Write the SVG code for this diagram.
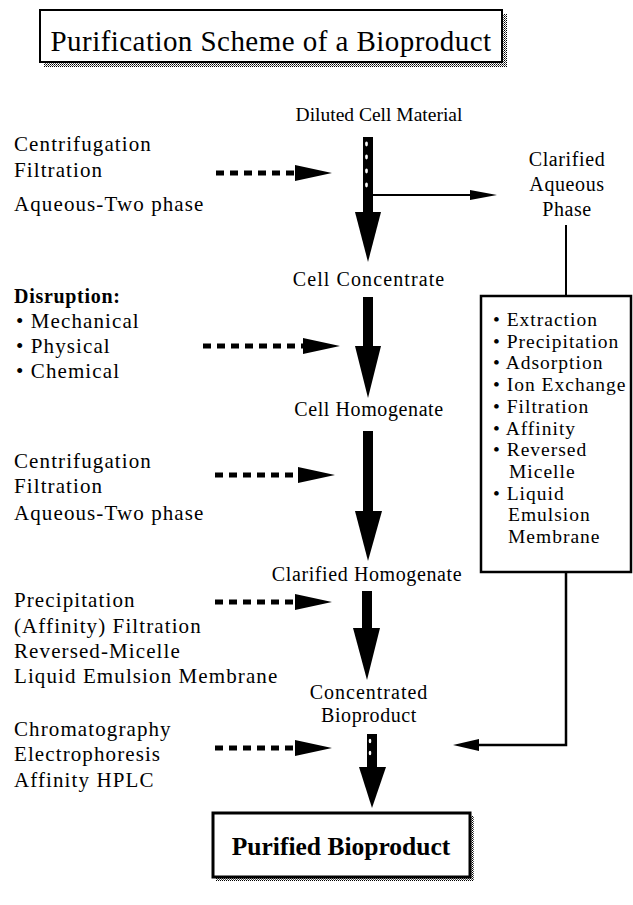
<svg xmlns="http://www.w3.org/2000/svg" width="633" height="905" viewBox="0 0 633 905">
<style>
text{font-family:"Liberation Serif","Times New Roman",serif;fill:#000}
.t{font-size:29px;letter-spacing:0.45px;text-anchor:middle}
.c{font-size:20px;letter-spacing:0.6px;text-anchor:middle}
.l{font-size:21px;letter-spacing:1.1px}
.lb{font-size:20px;letter-spacing:0.7px;font-weight:bold}
.b{font-size:19.5px;letter-spacing:1px}
.p{font-size:25.5px;font-weight:bold;text-anchor:middle}
.box{fill:#fff;stroke:#000}
.ln{stroke:#000;fill:none}
.dash{stroke:#000;stroke-width:5;stroke-dasharray:8 6;fill:none}
.blk{fill:#000}
.wd{fill:#fff}
</style>
<defs>
<pattern id="sh" width="2" height="2" patternUnits="userSpaceOnUse">
<rect width="2" height="2" fill="#fff"/>
<rect width="1" height="1" fill="#000"/>
<rect x="1" y="1" width="1" height="1" fill="#555"/>
</pattern>
</defs>
<rect width="633" height="905" fill="#fff"/>

<g id="title">
<rect x="44" y="14" width="463" height="53" fill="url(#sh)"/>
<rect class="box" x="40" y="10" width="462" height="52" stroke-width="2"/>
<text class="t" x="271" y="51">Purification Scheme of a Bioproduct</text>
</g>

<g id="connectors">
<!-- main arrow 1 (striped shaft) -->
<rect class="blk" x="363" y="137" width="10" height="76"/>
<ellipse class="wd" cx="366.5" cy="144" rx="1.4" ry="2.4"/>
<ellipse class="wd" cx="366.5" cy="157" rx="1.4" ry="2.4"/>
<ellipse class="wd" cx="366.5" cy="171" rx="1.4" ry="2.4"/>
<ellipse class="wd" cx="366.5" cy="185" rx="1.4" ry="2.4"/>
<polygon class="blk" points="355,212 381,212 368,262"/>
<!-- branch to clarified aqueous phase -->
<line class="ln" x1="373" y1="195" x2="475" y2="195" stroke-width="2"/>
<polygon class="blk" points="470,190 497,195 470,200"/>
<line class="ln" x1="566" y1="225" x2="566" y2="296" stroke-width="2"/>
<!-- main arrow 2 -->
<rect class="blk" x="363" y="297" width="10" height="50"/>
<polygon class="blk" points="355,346 381,346 368,398"/>
<!-- main arrow 3 -->
<rect class="blk" x="363" y="431" width="10" height="81"/>
<polygon class="blk" points="355,511 382,511 368,561"/>
<!-- main arrow 4 -->
<rect class="blk" x="362" y="591" width="10" height="39"/>
<polygon class="blk" points="353,628 380,628 367,680"/>
<!-- box to concentrated bioproduct -->
<polyline class="ln" points="566,572 566,745 475,745" stroke-width="2.5"/>
<polygon class="blk" points="479,739 453,745 479,751"/>
<!-- main arrow 5 (striped shaft) -->
<rect class="blk" x="367" y="734" width="10" height="35"/>
<ellipse class="wd" cx="370" cy="741" rx="1.3" ry="2.3"/>
<ellipse class="wd" cx="370" cy="753" rx="1.3" ry="2.3"/>
<polygon class="blk" points="359,767 386,767 372,808"/>
<!-- dashed arrows -->
<line class="dash" x1="216" y1="173" x2="298" y2="173"/>
<polygon class="blk" points="295,165 332,173 295,181"/>
<line class="dash" x1="203" y1="346" x2="306" y2="346"/>
<polygon class="blk" points="303,338 340,346 303,354"/>
<line class="dash" x1="215" y1="475" x2="300" y2="475"/>
<polygon class="blk" points="298,467 335,475 298,483"/>
<line class="dash" x1="215" y1="602" x2="298" y2="602"/>
<polygon class="blk" points="295,594 332,602 295,610"/>
<line class="dash" x1="215" y1="748" x2="298" y2="748"/>
<polygon class="blk" points="295,740 332,748 295,756"/>
</g>

<g id="diluted-cell-material"><text class="c" x="379" y="121" style="font-size:19.5px;letter-spacing:0px">Diluted Cell Material</text></g>
<g id="cell-concentrate"><text class="c" x="369" y="286" style="letter-spacing:1.1px">Cell Concentrate</text></g>
<g id="cell-homogenate"><text class="c" x="369" y="416">Cell Homogenate</text></g>
<g id="clarified-homogenate"><text class="c" x="367" y="581">Clarified Homogenate</text></g>
<g id="concentrated-bioproduct">
<text class="c" x="369" y="699" style="letter-spacing:1px">Concentrated</text>
<text class="c" x="369" y="722">Bioproduct</text>
</g>
<g id="clarified-aqueous-phase">
<text class="c" x="567" y="166">Clarified</text>
<text class="c" x="567" y="191">Aqueous</text>
<text class="c" x="567" y="216">Phase</text>
</g>

<g id="methods-box">
<rect class="box" x="481" y="296" width="150" height="276" stroke-width="2.5" fill="none"/>
<text class="b" x="493" y="326">• Extraction</text>
<text class="b" x="493" y="347.7">• Precipitation</text>
<text class="b" x="493" y="369.4">• Adsorption</text>
<text class="b" x="493" y="391.1">• Ion Exchange</text>
<text class="b" x="493" y="412.8">• Filtration</text>
<text class="b" x="493" y="434.5">• Affinity</text>
<text class="b" x="493" y="456.2">• Reversed</text>
<text class="b" x="509" y="477.9">Micelle</text>
<text class="b" x="493" y="499.6">• Liquid</text>
<text class="b" x="508" y="521.3">Emulsion</text>
<text class="b" x="508" y="543">Membrane</text>
</g>

<g id="methods-1">
<text class="l" x="14" y="151">Centrifugation</text>
<text class="l" x="14" y="177">Filtration</text>
<text class="l" x="14" y="211">Aqueous-Two phase</text>
</g>
<g id="methods-2">
<text class="lb" x="14" y="303">Disruption:</text>
<text class="l" x="16" y="328">• Mechanical</text>
<text class="l" x="16" y="353">• Physical</text>
<text class="l" x="16" y="378">• Chemical</text>
</g>
<g id="methods-3">
<text class="l" x="14" y="468">Centrifugation</text>
<text class="l" x="14" y="493">Filtration</text>
<text class="l" x="14" y="520">Aqueous-Two phase</text>
</g>
<g id="methods-4">
<text class="l" x="14" y="607">Precipitation</text>
<text class="l" x="14" y="633">(Affinity) Filtration</text>
<text class="l" x="14" y="658">Reversed-Micelle</text>
<text class="l" x="14" y="683">Liquid Emulsion Membrane</text>
</g>
<g id="methods-5">
<text class="l" x="14" y="736">Chromatography</text>
<text class="l" x="14" y="761">Electrophoresis</text>
<text class="l" x="14" y="787">Affinity HPLC</text>
</g>

<g id="purified-bioproduct">
<rect x="216" y="816" width="258" height="65" fill="url(#sh)"/>
<rect class="box" x="213" y="813" width="257" height="64" stroke-width="3"/>
<text class="p" x="341" y="855">Purified Bioproduct</text>
</g>
</svg>
